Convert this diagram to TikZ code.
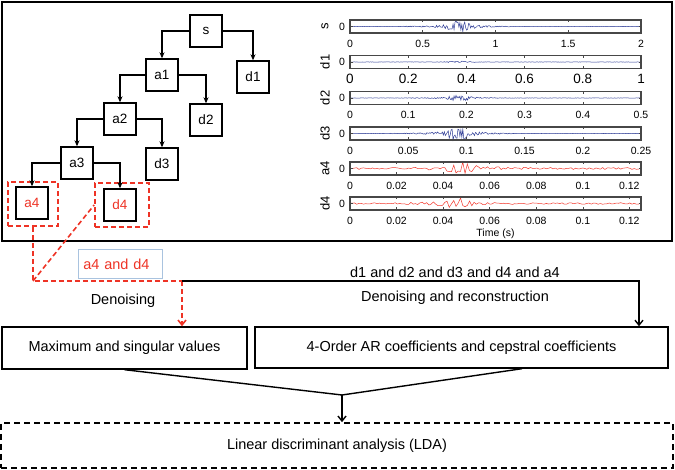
\documentclass[tikz,border=0pt]{standalone}
\usepackage{fontspec}
\setmainfont{Liberation Sans}
\usetikzlibrary{arrows.meta,calc}
\definecolor{cutred}{HTML}{EE3325}
\definecolor{waveblue}{HTML}{2F3D96}
\definecolor{wavered}{HTML}{F2382C}
\definecolor{tagblue}{HTML}{A9C3DF}
\tikzset{
  treebox/.style={draw,line width=1.4pt,minimum size=32pt,inner sep=0pt,
    font=\fontsize{13.5}{15}\selectfont},
  treearrow/.style={-{Stealth[length=6pt,width=5pt]},line width=1.1pt},
  flowarrow/.style={-{Straight Barb[length=5pt,width=8pt]},line width=1.4pt},
  cutframe/.style={draw=cutred,line width=1.7pt,dash pattern=on 5pt off 3pt,
    minimum height=44pt},
  cutline/.style={cutred,line width=1.6pt,dash pattern=on 5pt off 3pt},
  featbox/.style={draw,line width=1.4pt,inner sep=0pt,
    font=\fontsize{14.5}{17}\selectfont},
  caption/.style={font=\fontsize{14.5}{17}\selectfont},
  tagbox/.style={draw=tagblue,line width=0.8pt,text=cutred,anchor=north west,
    inner xsep=5pt,text width=74pt,align=left,minimum height=29pt,
    font=\fontsize{14.5}{17}\selectfont},
}

\begin{document}
\begin{tikzpicture}[x=1pt,y=-1pt]
    \useasboundingbox (0,0) rectangle (675,470);
    \draw[line width=2.2pt] (2,2) rectangle (672,241);

    % wavelet decomposition tree
    \node[treebox] (s)  at (206,31)  {s};
    \node[treebox] (a1) at (162,75)  {a1};
    \node[treebox] (d1) at (253,77)  {d1};
    \node[treebox] (a2) at (120,119) {a2};
    \node[treebox] (d2) at (206,120) {d2};
    \node[treebox] (a3) at (77,163)  {a3};
    \node[treebox] (d3) at (162,164) {d3};
    \node[treebox,text=cutred] (a4) at (32,203)  {a4};
    \node[treebox,text=cutred] (d4) at (120,205) {d4};
    \node[cutframe,minimum width=50pt] (a4f) at (33,204)  {};
    \node[cutframe,minimum width=54pt] (d4f) at (122,205) {};

    \draw[treearrow] (s.west)  -| (a1.north);
    \draw[treearrow] (s.east)  -| (d1.north);
    \draw[treearrow] (a1.west) -| (a2.north);
    \draw[treearrow] (a1.east) -| (d2.north);
    \draw[treearrow] (a2.west) -| (a3.north);
    \draw[treearrow] (a2.east) -| (d3.north);
    \draw[treearrow] (a3.west) -| (a4.north);
    \draw[treearrow] (a3.east) -| (d4.north);

    % signal panels
    \pgfmathsetseed{11}
    \foreach \lab/\c/\xmax/\ticks/\fs/\col/\ns/\base/\wide/\burst/\mid in {
        s/26.5/2/{0,0.5,1,1.5,2}/10.5/waveblue/300/0.15/1.2/4.5/0.375,
        d1/62/1/{0,0.2,0.4,0.6,0.8,1}/13.5/waveblue/300/0.1/0.15/0.8/0.38,
        d2/98/0.5/{0,0.1,0.2,0.3,0.4,0.5}/10.5/waveblue/300/0.15/0.6/2.5/0.375,
        d3/133.5/0.25/{0,0.05,0.1,0.15,0.2,0.25}/10.5/waveblue/300/0.2/1.6/5.5/0.37,
        a4/168.5/0.125/{0,0.02,0.04,0.06,0.08,0.1,0.12}/10.5/wavered/130/1.0/1.4/4.5/0.39,
        d4/203.5/0.125/{0,0.02,0.04,0.06,0.08,0.1,0.12}/10.5/wavered/130/0.8/1.5/4/0.37} {
        \draw[\col,line width=0.5pt] plot[domain=0:1,samples=\ns]
            ({350+291*\x},{\c+rand*(\base+\wide*exp(-((\x-\mid)/0.13)^2)+\burst*exp(-((\x-\mid)/0.04)^2))});
        \draw[line width=1.3pt,black!72] (350,\c-6.5) rectangle (641,\c+6.5);
        \draw[line width=0.6pt,black!72] (350,\c) -- (352.5,\c) (641,\c) -- (638.5,\c);
        \foreach \t in \ticks {
            \draw[line width=0.6pt,black!72] ({350+291*\t/\xmax},\c-6.5) -- ++(0,2.5)
                ({350+291*\t/\xmax},\c+6.5) -- ++(0,-2.5);
            \node[font=\fontsize{\fs}{\fs}\selectfont] at ({350+291*\t/\xmax},\c+17) {\t};
        }
        \node[font=\fontsize{10.5}{12}\selectfont] at (342,\c) {0};
        \node[rotate=90,font=\fontsize{13}{14}\selectfont] at (325,\c) {\lab};
    }
    \node[font=\fontsize{10.5}{12}\selectfont] at (495.5,234) {Time (s)};

    % feature extraction and classification
    \node[featbox,minimum width=245pt,minimum height=42pt] (feat1) at (124.5,348)
        {Maximum and singular values};
    \node[featbox,minimum width=413pt,minimum height=41pt] (feat2) at (461.5,347.5)
        {4-Order AR coefficients and cepstral coefficients};
    \node[featbox,line width=1.7pt,dash pattern=on 6pt off 4pt,
        minimum width=672pt,minimum height=45pt] (lda) at (337,445.5)
        {Linear discriminant analysis (LDA)};

    \node[tagbox] (pairtag) at (78,249) {a4 and d4};
    \node[caption] (denoise) at (123,301) {Denoising};
    \node[caption] (allbands) at (455,272) {d1 and d2 and d3 and d4 and a4};
    \node[caption] (recon) at (455,298) {Denoising and reconstruction};

    \coordinate (split) at (33,281);
    \coordinate (turn) at (182,281);
    \coordinate (bend) at (639,281);
    \coordinate (merge) at (342,395);

    \draw[cutline] (a4f.south) -- (split) -- (turn);
    \draw[cutline] (split) -- (d4f.west);
    \draw[cutline,flowarrow,line width=1.6pt] (turn) -- (turn |- feat1.north);
    \draw[flowarrow] (turn) -- (bend) -- (bend |- feat2.north);

    \draw[line width=1.4pt] (feat1.south) -- (merge) -- ([xshift=60.5pt]feat2.south);
    \draw[flowarrow] (merge) -- (merge |- lda.north);
\end{tikzpicture}
\end{document}
